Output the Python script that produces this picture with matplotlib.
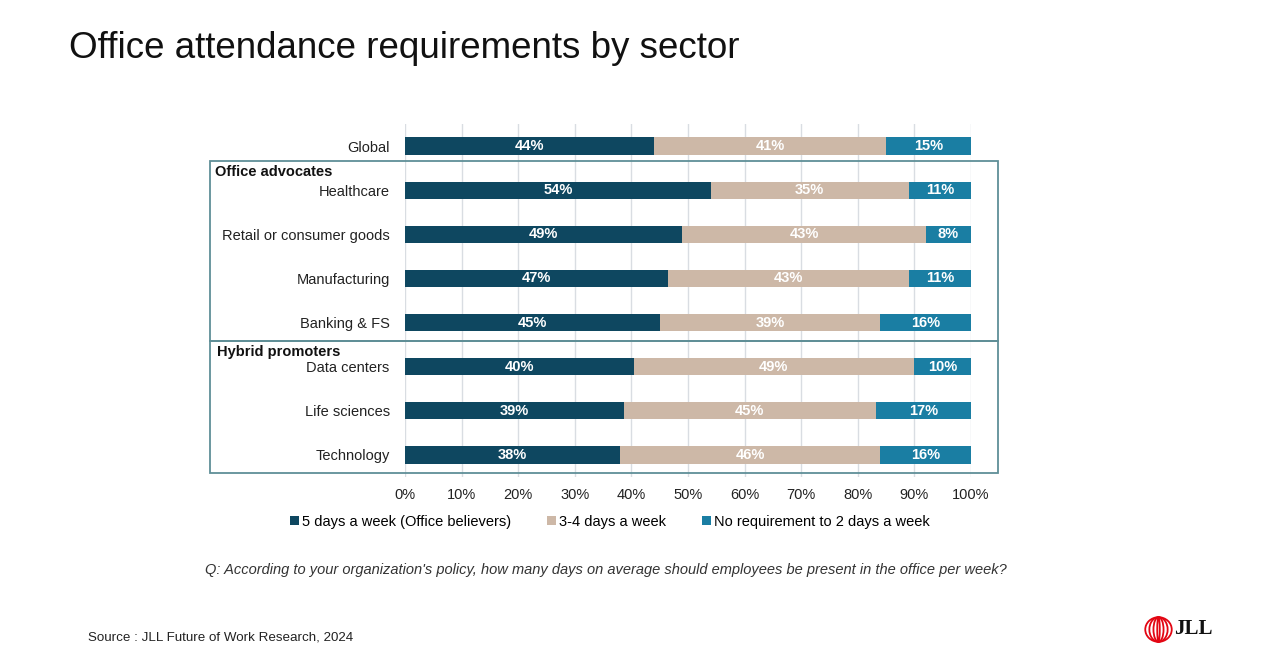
import matplotlib
matplotlib.use("Agg")
import matplotlib.pyplot as plt
from matplotlib.patches import Rectangle, Ellipse
import numpy as np

plt.rcParams['font.family'] = ['Liberation Sans', 'DejaVu Sans']

categories = ["Global", "Healthcare", "Retail or consumer goods", "Manufacturing",
              "Banking & FS", "Data centers", "Life sciences", "Technology"]
five_days = [44, 54, 49, 47, 45, 40, 39, 38]
three_four_days = [41, 35, 43, 43, 39, 49, 45, 46]
no_req = [15, 11, 8, 11, 16, 10, 17, 16]
series_names = ["5 days a week (Office believers)", "3-4 days a week",
                "No requirement to 2 days a week"]
colors = ["#0e4760", "#cdb8a7", "#1a7ea3"]
xticks = [0, 10, 20, 30, 40, 50, 60, 70, 80, 90, 100]
group_labels = ["Office advocates", "Hybrid promoters"]

W, H = 1279, 670
fig = plt.figure(figsize=(W / 100, H / 100), dpi=100)
ax = fig.add_axes([405 / W, 1 - 477 / H, (971 - 405) / W, (477 - 124) / H])

data = np.array([five_days, three_four_days, no_req], dtype=float)
totals = data.sum(axis=0)
pct = data / totals * 100
y = np.arange(len(categories))
left = np.zeros(len(categories))
for i in range(3):
    ax.barh(y, pct[i], left=left, height=0.39, color=colors[i],
            label=series_names[i], zorder=3)
    for j in range(len(categories)):
        ax.text(left[j] + pct[i][j] / 2, y[j], f"{int(data[i][j])}%",
                ha="center", va="center", color="white", fontsize=10.5,
                fontweight="bold", zorder=4)
    left += pct[i]

ax.set_xlim(0, 100)
ax.set_ylim(len(categories) - 0.5, -0.5)
ax.set_xticks(xticks)
ax.set_xticklabels([f"{t}%" for t in xticks], fontsize=10.5, color="#222222")
ax.set_yticks(y)
ax.set_yticklabels(categories, fontsize=10.5, color="#222222")
ax.tick_params(axis="x", length=0, pad=8)
ax.tick_params(axis="y", length=0, pad=11)
ax.grid(axis="x", color="#d9dde2", linewidth=1, zorder=0)
for s in ax.spines.values():
    s.set_visible(False)

# group boxes
box_color = "#5f8f97"
x0, x1 = -34.5, 104.8
ax.add_patch(Rectangle((x0, 0.34), x1 - x0, 4.41 - 0.34, fill=False,
                       edgecolor=box_color, linewidth=1.3, clip_on=False, zorder=5))
ax.add_patch(Rectangle((x0, 4.41), x1 - x0, 7.42 - 4.41, fill=False,
                       edgecolor=box_color, linewidth=1.3, clip_on=False, zorder=5))
ax.text(x0 + 0.9, 0.58, group_labels[0], fontsize=10.5, fontweight="bold",
        ha="left", va="center", color="#111111")
ax.text(x0 + 1.2, 4.67, group_labels[1], fontsize=10.5, fontweight="bold",
        ha="left", va="center", color="#111111")

# legend
fig.legend(loc="center", bbox_to_anchor=(610 / W, 1 - 522 / H), ncol=3,
           frameon=False, fontsize=10.5, handlelength=0.6, handleheight=0.6,
           handletextpad=0.2, columnspacing=2.5)

# title and notes
fig.text(69 / W, 1 - 48 / H, "Office attendance requirements by sector",
         fontsize=26.5, color="#111111", ha="left", va="center")
fig.text(606 / W, 1 - 570 / H,
         "Q: According to your organization's policy, how many days on average should employees be present in the office per week?",
         fontsize=10.5, style="italic", color="#333333", ha="center", va="center")
fig.text(88 / W, 1 - 638 / H, "Source : JLL Future of Work Research, 2024",
         fontsize=9.6, color="#222222", ha="left", va="center")

# logo
lax = fig.add_axes([1144 / W, 1 - 643 / H, 29 / W, 27 / H])
lax.set_xlim(-1.15, 1.15)
lax.set_ylim(-1.1, 1.1)
lax.axis("off")
for wdt in [2.1, 1.45, 0.8, 0.2]:
    lax.add_patch(Ellipse((0, 0), wdt, 2.0, fill=False, edgecolor="#e30613",
                          linewidth=1.3))
fig.text(1174 / W, 1 - 629 / H, "JLL", fontsize=15, fontweight="bold",
         family="Liberation Serif", color="#111111", ha="left", va="center")

fig.savefig("out.png", dpi=100)
